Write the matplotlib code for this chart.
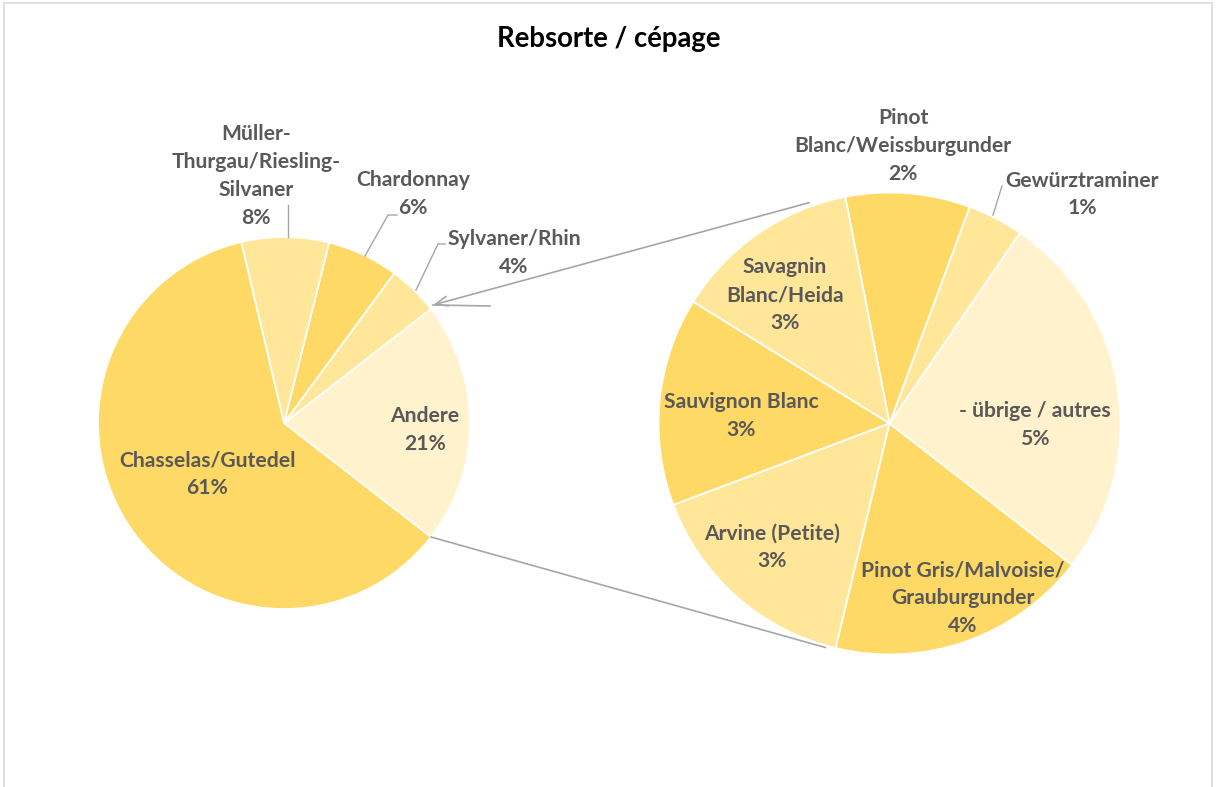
import numpy as np
import matplotlib
matplotlib.use("Agg")
import matplotlib.pyplot as plt
from matplotlib.patches import Rectangle

# ---------------- data ----------------
main_labels = ["Andere", "Sylvaner/Rhin", "Chardonnay",
               "Müller-\nThurgau/Riesling-\nSilvaner", "Chasselas/Gutedel"]
main_values = [21.0, 4.4, 6.2, 7.6, 60.8]

sub_labels = ["- übrige / autres", "Gewürztraminer", "Pinot\nBlanc/Weissburgunder",
              "Savagnin\nBlanc/Heida", "Sauvignon Blanc", "Arvine (Petite)",
              "Pinot Gris/Malvoisie/\nGrauburgunder"]
sub_values = [5.45, 0.82, 1.83, 2.75, 3.06, 3.26, 3.83]

title = "Rebsorte / cépage"

# ---------------- style ----------------
W, H = 1217, 787
C_DARK = "#FFD966"
C_MID = "#FFE699"
C_LIGHT = "#FFF2CC"
main_colors = [C_LIGHT, C_MID, C_DARK, C_MID, C_DARK]
sub_colors = [C_LIGHT, C_MID, C_DARK, C_MID, C_DARK, C_MID, C_DARK]
TXT = "#595959"
LEAD = "#A6A6A6"
FONT = ["Lato", "DejaVu Sans"]
FS = 15.2
LS = 1.48

def Y(py):
    return H - py

fig = plt.figure(figsize=(W / 100, H / 100), dpi=100)
ax = fig.add_axes([0, 0, 1, 1])
ax.set_xlim(0, W)
ax.set_ylim(0, H)
ax.axis("off")

# chart border
ax.add_patch(Rectangle((4, Y(800)), 1208, 797, fill=False, ec="#D9D9D9", lw=1.2))

# ---------------- pies ----------------
c1 = (284, Y(423))
r1 = 186
c2 = (889.5, Y(423.5))
r2 = 231

start1 = -main_values[0] / sum(main_values) * 360 / 2
ax.pie(main_values, colors=main_colors, startangle=start1, counterclock=True,
       center=c1, radius=r1, wedgeprops=dict(edgecolor="white", linewidth=1.3))
ax.pie(sub_values, colors=sub_colors, startangle=start1, counterclock=True,
       center=c2, radius=r2, wedgeprops=dict(edgecolor="white", linewidth=1.3))
ax.set_xlim(0, W)
ax.set_ylim(0, H)
ax.set_aspect("auto")

# ---------------- connectors ----------------
a_top = np.deg2rad(-start1)
a_bot = np.deg2rad(start1)
p_top_l = (c1[0] + r1 * np.cos(a_top), c1[1] + r1 * np.sin(a_top))
p_bot_l = (c1[0] + r1 * np.cos(a_bot), c1[1] + r1 * np.sin(a_bot))
p_top_r = (c2[0] + (r2 + 4) * np.cos(np.deg2rad(110)), c2[1] + (r2 + 4) * np.sin(np.deg2rad(110)))
p_bot_r = (c2[0] + (r2 + 2) * np.cos(np.deg2rad(254)), c2[1] + (r2 + 2) * np.sin(np.deg2rad(254)))

ax.annotate("", xy=(p_top_l[0] + 2, p_top_l[1] + 4), xytext=p_top_r,
            arrowprops=dict(arrowstyle="->,head_length=0.9,head_width=0.35",
                            color=LEAD, lw=1.2, shrinkA=0, shrinkB=0))
ax.plot([p_top_l[0] + 2, 490], [p_top_l[1] + 4, Y(306)], color=LEAD, lw=1.2)
ax.plot([p_bot_l[0], p_bot_r[0]], [p_bot_l[1], p_bot_r[1]], color=LEAD, lw=1.2)

# ---------------- leader lines ----------------
ax.plot([288, 288], [Y(205), Y(237)], color=LEAD, lw=1.0)
ax.plot([397, 388, 365], [Y(215), Y(215), Y(256)], color=LEAD, lw=1.0)
ax.plot([445, 438, 416], [Y(244), Y(244), Y(290)], color=LEAD, lw=1.0)
ax.plot([1002, 993], [Y(186), Y(215)], color=LEAD, lw=1.0)

# ---------------- labels ----------------
def pct(v, total):
    return f"{round(v / total * 100):d}%"

tot = sum(main_values)
main_pos = [(425, 430), (514, 253), (413, 194), (256, 176), (207, 474)]
for lab, v, (x, y) in zip(main_labels, main_values, main_pos):
    ax.text(x, Y(y), f"{lab}\n{pct(v, tot)}", ha="center", va="center",
            fontsize=FS, fontweight="bold", color=TXT, family=FONT, linespacing=LS)

sub_pos = [(1035, 425), (1082, 194.5), (903, 146), (785, 295), (741, 416),
           (772, 547), (963, 598)]
for lab, v, (x, y) in zip(sub_labels, sub_values, sub_pos):
    ax.text(x, Y(y), f"{lab}\n{pct(v, tot)}", ha="center", va="center",
            fontsize=FS, fontweight="bold", color=TXT, family=FONT, linespacing=LS)

ax.text(609, Y(39), title, ha="center", va="center", fontsize=19.8,
        fontweight="bold", color="black", family=FONT)

fig.savefig("out.png", dpi=100, facecolor="white")
